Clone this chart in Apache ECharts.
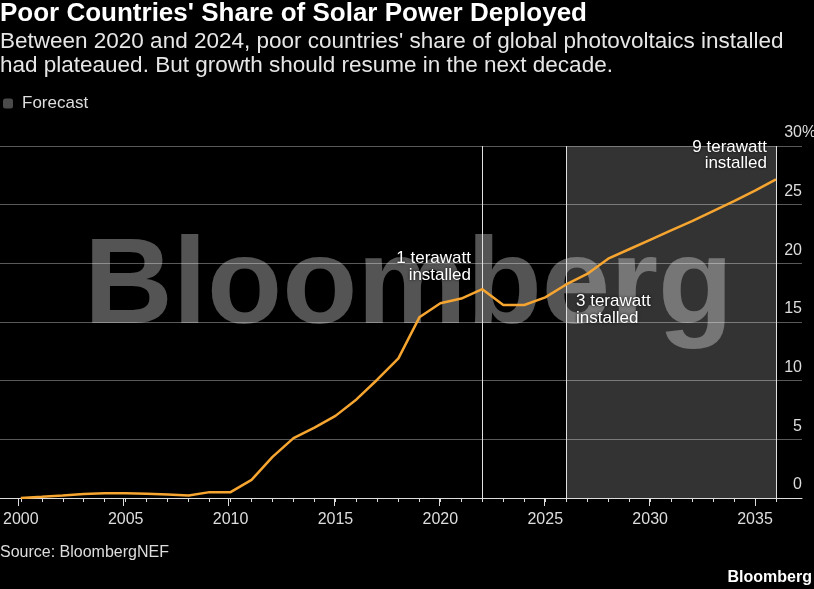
<!DOCTYPE html>
<html>
<head>
<meta charset="utf-8">
<script src="https://cdn.jsdelivr.net/npm/echarts@6/dist/echarts.min.js"></script>
<style>
html,body{margin:0;padding:0;background:#000;}
#c{width:814px;height:589px;}
</style>
</head>
<body>
<div id="c"></div>
<script>
const years = ['2000','2001','2002','2003','2004','2005','2006','2007','2008','2009',
  '2010','2011','2012','2013','2014','2015','2016','2017','2018','2019',
  '2020','2021','2022','2023','2024','2025','2026','2027','2028','2029',
  '2030','2031','2032','2033','2034','2035','2036'];
const share = [0,0.1,0.22,0.35,0.4,0.4,0.37,0.3,0.22,0.5,
  0.5,1.55,3.5,5.1,6.0,7.0,8.4,10.1,11.9,15.4,
  16.6,17.0,17.8,16.45,16.45,17.1,18.2,19.1,20.4,21.2,
  22.0,22.8,23.6,24.45,25.3,26.2,27.15];
const forecastRange = ['2026','2036'];
const markerYears = ['2022','2026','2036'];
const yMin = 0, yMax = 30, yStep = 5;

const FONT = '"Liberation Sans", Arial, sans-serif';
const plotGrid = { left: 18, right: 38, top: 146, bottom: 91 };
const chart = echarts.init(document.getElementById('c'));
chart.setOption({
  backgroundColor: '#000',
  animation: false,
  textStyle: { fontFamily: FONT },
  title: {
    left: 0, top: 0, itemGap: 2, padding: 0,
    text: "Poor Countries' Share of Solar Power Deployed",
    textStyle: { color: '#fff', fontSize: 26, fontWeight: 'bold', lineHeight: 28, fontFamily: FONT },
    subtext: "Between 2020 and 2024, poor countries' share of global photovoltaics installed\nhad plateaued. But growth should resume in the next decade.",
    subtextStyle: { color: '#e6e6e6', fontSize: 22.5, lineHeight: 24, fontFamily: FONT }
  },
  legend: {
    left: 3, top: 95, padding: 0,
    itemWidth: 10, itemHeight: 10,
    data: [{ name: 'Forecast', icon: 'roundRect' }],
    textStyle: { color: '#ddd', fontSize: 17, padding: [0,0,0,4], fontFamily: FONT },
    selectedMode: false
  },
  grid: [
    { left: 0, right: 12, top: 146, bottom: 91 },
    plotGrid,
    plotGrid
  ],
  xAxis: [
    { gridIndex: 0, type: 'value', min: 0, max: 1,
      axisLine: { show: true, lineStyle: { color: '#ddd', width: 1 } },
      axisTick: { show: false }, axisLabel: { show: false }, splitLine: { show: false } },
    { gridIndex: 1, type: 'category', data: years, boundaryGap: false,
      axisLine: { show: true, lineStyle: { color: '#ddd', width: 1 } },
      axisTick: { show: true, interval: 0, length: 4, lineStyle: { color: '#ddd' } },
      axisLabel: { interval: 4, color: '#ddd', fontSize: 16, margin: 14, fontFamily: FONT },
      splitLine: { show: false } },
    { gridIndex: 2, type: 'category', data: years, boundaryGap: false,
      axisLine: { show: false },
      axisTick: { show: true, interval: 4, length: 8, lineStyle: { color: '#ddd' } },
      axisLabel: { show: false }, splitLine: { show: false } }
  ],
  yAxis: [
    { gridIndex: 0, type: 'value', min: yMin, max: yMax, interval: yStep, position: 'right',
      axisLine: { show: false }, axisTick: { show: false },
      axisLabel: { inside: true, margin: 0, align: 'right', verticalAlign: 'bottom',
        padding: [0,0,5,0], color: '#ddd', fontSize: 16, fontFamily: FONT },
      splitLine: { show: true, lineStyle: { color: 'rgba(255,255,255,0.35)', width: 1 } } },
    { gridIndex: 1, type: 'value', min: yMin, max: yMax, interval: yStep, show: false },
    { gridIndex: 2, type: 'value', min: yMin, max: yMax, interval: yStep, show: false }
  ],
  graphic: [
    { type: 'text', z: -10, x: 84, y: 289,
      style: { text: 'Bloomberg', fill: 'rgba(255,255,255,0.33)', font: 'bold 123px ' + FONT,
        verticalAlign: 'middle' } },
    { type: 'text', x: 802, y: 141, z: 10,
      style: { text: '%', fill: '#ddd', font: '16px ' + FONT, verticalAlign: 'bottom' } },
    { type: 'text', x: 471, y: 266.5, z: 10,
      style: { text: '1 terawatt\ninstalled', fill: '#fff', font: '17px ' + FONT, lineHeight: 17,
        align: 'right', verticalAlign: 'middle', textShadowColor: '#000', textShadowBlur: 3 } },
    { type: 'text', x: 576, y: 310, z: 10,
      style: { text: '3 terawatt\ninstalled', fill: '#fff', font: '17px ' + FONT, lineHeight: 17,
        align: 'left', verticalAlign: 'middle', textShadowColor: '#000', textShadowBlur: 3 } },
    { type: 'text', x: 767, y: 155, z: 10,
      style: { text: '9 terawatt\ninstalled', fill: '#fff', font: '17px ' + FONT, lineHeight: 16,
        align: 'right', verticalAlign: 'middle', textShadowColor: '#000', textShadowBlur: 3 } },
    { type: 'text', x: 0, y: 553,
      style: { text: 'Source: BloombergNEF', fill: '#ddd', font: '16px ' + FONT, verticalAlign: 'middle' } },
    { type: 'text', x: 812, y: 578,
      style: { text: 'Bloomberg', fill: '#fff', font: 'bold 16px ' + FONT, align: 'right', verticalAlign: 'middle' } }
  ],
  series: [
    { name: 'Forecast', type: 'line', xAxisIndex: 1, yAxisIndex: 1, data: [],
      itemStyle: { color: '#4a4a4a' }, lineStyle: { color: '#4a4a4a' }, symbol: 'none',
      markArea: { silent: true, itemStyle: { color: 'rgba(255,255,255,0.2)' },
        data: [[{ xAxis: forecastRange[0] }, { xAxis: forecastRange[1] }]] } },
    { name: 'Share', type: 'line', xAxisIndex: 1, yAxisIndex: 1, data: share,
      symbol: 'none', z: 5,
      lineStyle: { color: '#f6a530', width: 2.5 },
      markLine: { silent: true, symbol: 'none', label: { show: false },
        lineStyle: { color: '#e0e0e0', width: 1, type: 'solid' },
        data: markerYears.map(y => ({ xAxis: y })) } }
  ]
});
</script>
</body>
</html>
